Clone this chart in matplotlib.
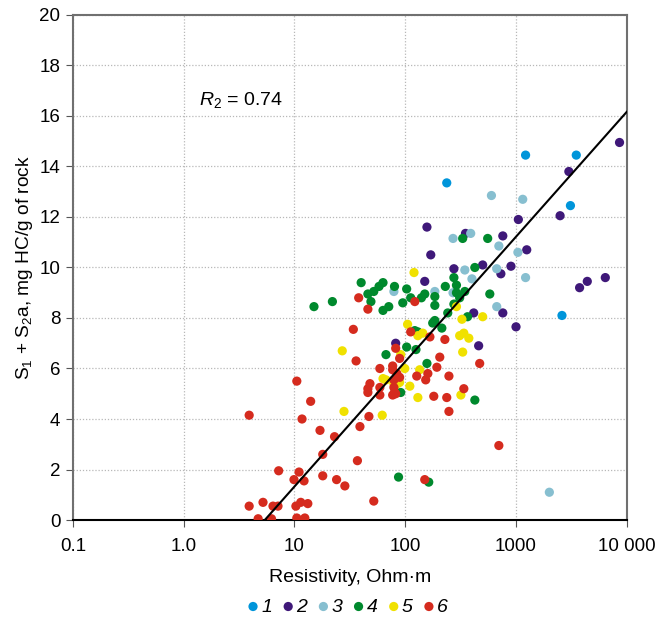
import numpy as np
import matplotlib as mpl

mpl.use('agg')

import matplotlib.pyplot as plt

plt.rcParams['font.family'] = ['Liberation Sans', 'DejaVu Sans']
plt.rcParams['mathtext.fontset'] = 'custom'
plt.rcParams['mathtext.rm'] = 'Liberation Sans'
plt.rcParams['mathtext.it'] = 'Liberation Sans:italic'

# group 1
res1 = [237, 1220, 3500, 3100, 2600]
s1 = [13.35, 14.45, 14.45, 12.45, 8.1]

# group 2
res2 = [8600, 3000, 2500, 1050, 760, 1250, 900, 730, 3750, 4400, 6400, 760, 1000,
        157, 170, 350, 500, 275, 150, 415, 460, 82]
s2 = [14.95, 13.8, 12.05, 11.9, 11.25, 10.7, 10.05, 9.75, 9.2, 9.45, 9.6, 8.2, 7.65,
      11.6, 10.5, 11.35, 10.1, 9.95, 9.45, 8.2, 6.9, 7.0]

# group 3
res3 = [600, 1150, 270, 390, 700, 1040, 1220, 345, 400, 670, 185, 79, 270, 670, 2000]
s3 = [12.85, 12.7, 11.15, 11.35, 10.85, 10.6, 9.6, 9.9, 9.55, 9.95, 9.05, 9.05, 9.0, 8.45, 1.1]

# group 4
res4 = [15, 22, 40, 46, 49, 52, 58, 63, 63, 71, 80, 67, 103, 95, 112, 140, 150, 185,
        185, 230, 290, 290, 310, 345, 275, 275, 330, 425, 555, 580, 185, 177, 214, 365,
        122, 130, 103, 125, 157, 242, 91, 425, 87, 163]
s4 = [8.45, 8.65, 9.4, 8.95, 8.65, 9.05, 9.25, 9.4, 8.3, 8.45, 9.25, 6.55, 9.15, 8.6,
      8.8, 8.8, 8.95, 8.85, 8.5, 9.25, 9.3, 9.0, 8.8, 9.05, 8.55, 9.6, 11.15, 10.0,
      11.15, 8.95, 7.9, 7.8, 7.6, 8.05, 7.5, 7.45, 6.85, 6.75, 6.2, 8.2, 5.05, 4.75,
      1.7, 1.5]

# group 5
res5 = [120, 290, 325, 500, 105, 130, 144, 310, 338, 375, 27, 91, 330, 99, 135, 63, 67,
        89, 110, 130, 318, 28, 62, 79, 85]
s5 = [9.8, 8.45, 7.95, 8.05, 7.75, 7.3, 7.4, 7.3, 7.4, 7.2, 6.7, 6.55, 6.65, 6.0, 5.95,
      5.6, 5.55, 5.45, 5.3, 4.85, 4.95, 4.3, 4.15, 5.4, 5.4]

# group 6
res6 = [3.9, 10.5, 14, 11.7, 17, 18, 18, 7.2, 9.9, 11, 12.2, 3.9, 5.2, 6.4, 7.1, 10.3,
        11.4, 13.2, 4.7, 6.2, 10.5, 12.4, 23, 24, 38, 46, 122, 34, 112, 167, 228, 82,
        89, 36, 59, 77, 205, 193, 160, 127, 248, 470, 89, 153, 48, 46, 46, 59, 77, 82,
        79, 79, 84, 77, 181, 237, 338, 248, 47, 39, 700, 37, 28.5, 52, 150, 59, 80]
s6 = [4.15, 5.5, 4.7, 4.0, 3.55, 2.6, 1.75, 1.95, 1.6, 1.9, 1.55, 0.55, 0.7, 0.55, 0.55,
      0.55, 0.7, 0.65, 0.05, 0.05, 0.08, 0.08, 3.3, 1.6, 8.8, 8.35, 8.65, 7.55, 7.45,
      7.25, 7.15, 6.8, 6.4, 6.3, 6.0, 6.1, 6.45, 6.05, 5.8, 5.7, 5.7, 6.2, 5.65, 5.55,
      5.4, 5.2, 5.05, 4.95, 4.95, 5.0, 5.25, 5.55, 5.8, 5.95, 4.9, 4.85, 5.2, 4.3, 4.1,
      3.7, 2.95, 2.35, 1.35, 0.75, 1.6, 5.25, 5.05]

# trend line y = a*log10(x) + b
fit_a = 4.946
fit_b = -3.62
fit_x = [5.4, 10000]

groups = [(res1, s1, '#0095da', '1'),
          (res2, s2, '#3f1879', '2'),
          (res3, s3, '#87bfd0', '3'),
          (res4, s4, '#00892d', '4'),
          (res5, s5, '#f0e100', '5'),
          (res6, s6, '#d52b1e', '6')]

fig = plt.figure(figsize=(6.57, 6.23), dpi=100)
ax = fig.add_axes([0.111, 0.1653, 0.843, 0.8107])

for x, y, c, lab in groups:
    ax.scatter(x, y, s=44, color=c, edgecolors='none', label=lab, zorder=3)

lx = np.array(fit_x)
ax.plot(lx, fit_a * np.log10(lx) + fit_b, color='black', lw=1.5, zorder=4)

ax.set_xscale('log')
ax.set_xlim(0.1, 10000)
ax.set_ylim(0, 20)
ax.set_xticks([0.1, 1, 10, 100, 1000, 10000])
ax.set_xticklabels(['0.1', '1.0', '10', '100', '1000', '10 000'])
ax.minorticks_off()
ax.set_yticks(range(0, 21, 2))
ax.tick_params(labelsize=13.5, direction='out', length=5, color='#555555')
ax.tick_params(axis='x', pad=8)
ax.tick_params(axis='y', pad=4)
ax.grid(True, ls=(0, (1, 1.5)), color='#b8b8b8', lw=0.9)
ax.set_axisbelow(True)

for side in ['top', 'right', 'left']:
    ax.spines[side].set_color('#707070')
    ax.spines[side].set_linewidth(1.5)
ax.spines['bottom'].set_color('black')
ax.spines['bottom'].set_linewidth(1.5)

ax.set_xlabel('Resistivity, Ohm·m', fontsize=14, labelpad=10)
ax.set_ylabel('S$_1$ + S$_2$a, mg HC/g of rock', fontsize=13.8, labelpad=3)

ax.text(0.228, 0.832, '$R_2$ = 0.74', transform=ax.transAxes, fontsize=14,
        ha='left', va='center')

leg = fig.legend(loc='center', bbox_to_anchor=(0.528, 0.026), ncol=6, frameon=False,
                 handletextpad=0.05, columnspacing=0.45, handlelength=0.75,
                 markerscale=1.0, prop={'style': 'italic', 'size': 14})

fig.savefig('out.png', dpi=100)
